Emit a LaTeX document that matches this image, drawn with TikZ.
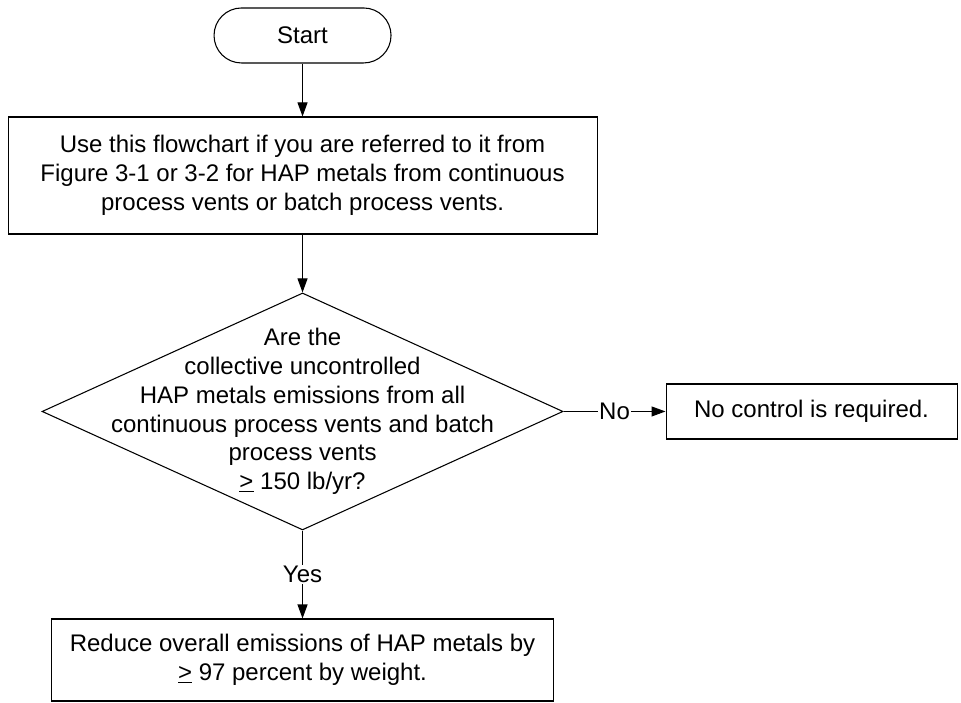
\documentclass[tikz,border=0pt]{standalone}
\usepackage{fontspec}
\setmainfont{Liberation Sans}
\usetikzlibrary{shapes.geometric}
\usetikzlibrary{arrows.meta}

\begin{document}
\begin{tikzpicture}
	[node distance={105pt}, thick, font=\fontsize{18}{21.6}\selectfont,
	main/.style = {draw, rectangle, align=center, inner sep=0pt},
	decision/.style = {draw, diamond, inner sep=0pt, minimum width=390.75pt, minimum height=177.75pt},
	>={Triangle[length=10.5pt, width=7.5pt]}]
	\useasboundingbox (0,0) rectangle (720.75pt,-527.25pt);
	\node[main, rounded corners=20.6pt, minimum width=132.75pt, minimum height=41.25pt] (1) at (226.9pt,-26.6pt) {Start};
	\node[main, minimum width=441.75pt, minimum height=87.75pt] (2) [below of=1] {Use this flowchart if you are referred to it from\\Figure 3-1 or 3-2 for HAP metals from continuous\\process vents or batch process vents.};
	\node[decision, node distance=177pt, label={[align=center]center:Are the\\collective uncontrolled\\HAP metals emissions from all\\continuous process vents and batch\\process vents\\\underline{>} 150 lb/yr?}] (3) [below of=2] {};
	\node[main, node distance=381.75pt, minimum width=218.25pt, minimum height=41.25pt] (4) [right of=3] {No control is required.};
	\node[main, node distance=186.4pt, minimum width=376.5pt, minimum height=61.5pt] (5) [below of=3] {Reduce overall emissions of HAP metals by\\\underline{>} 97 percent by weight.};
	\draw[->] (1) -- (2);
	\draw[->] (2) -- (3);
	\draw[->] (3) -- node[fill=white, inner sep=1pt] {No} (4);
	\draw[->] (3) -- node[fill=white, inner sep=1pt] {Yes} (5);
\end{tikzpicture}
\end{document}
